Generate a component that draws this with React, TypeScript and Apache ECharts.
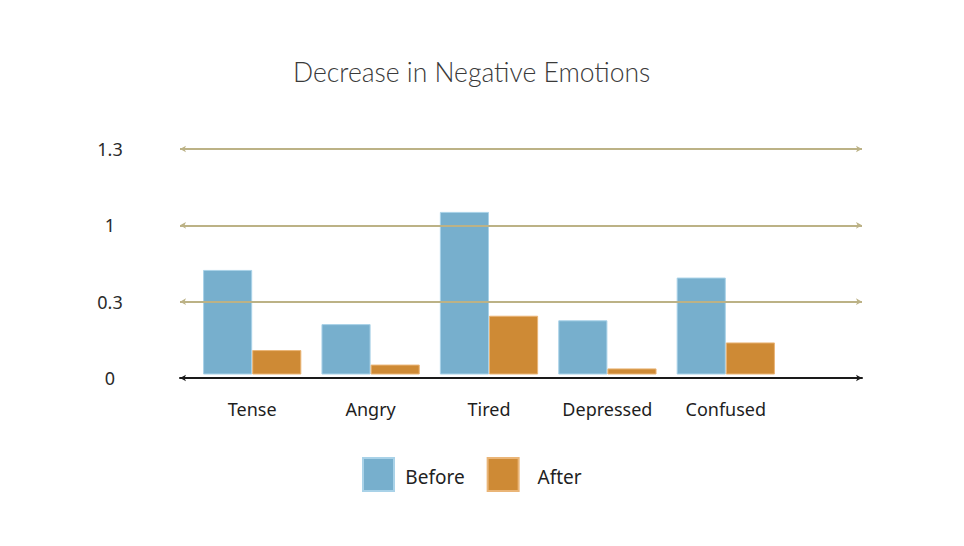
import React, { useEffect, useRef } from "react";
import * as echarts from "echarts";

const categories = ["Tense", "Angry", "Tired", "Depressed", "Confused"];
const beforeValues = [1.37, 0.66, 2.13, 0.71, 1.27];
const afterValues = [0.32, 0.13, 0.77, 0.08, 0.42];
const yTickLabels = ["0", "0.3", "1", "1.3"];
const gridLineValues = [1, 2, 3];
const seriesNames = ["Before", "After"];

export default function App() {
  const ref = useRef<HTMLDivElement>(null);
  useEffect(() => {
    if (!ref.current) return;
    const chart = echarts.init(ref.current, undefined, { renderer: "svg" });
    chart.setOption({
      animation: false,
      backgroundColor: "#ffffff",
      title: {
        text: "Decrease in Negative Emotions",
        left: 288,
        top: 53,
        textStyle: {
          fontFamily: "Lato",
          fontSize: 26.5,
          fontWeight: 300,
          color: "#3a3a3a",
        },
      },
      legend: {
        data: seriesNames,
        left: 362,
        top: 457,
        padding: 0,
        itemWidth: 31,
        itemHeight: 33,
        itemGap: 22,
        icon: "rect",
        formatter: "{a|{name}}",
        textStyle: {
          rich: {
            a: {
              width: 72,
              align: "center",
              fontFamily: "Noto Sans",
              fontSize: 19,
              color: "#222222",
              padding: [4, 0, 0, 0],
            },
          },
        },
      },
      grid: [
        { left: 180, right: 102, top: 149, bottom: 168, containLabel: false },
        { left: 193, right: 179, top: 145.5, bottom: 171.5, containLabel: false },
      ],
      xAxis: [
        {
          type: "value",
          gridIndex: 0,
          min: 0,
          max: 1,
          axisLine: {
            show: true,
            onZero: false,
            symbol: ["arrow", "arrow"],
            symbolSize: [5, 6],
            lineStyle: { color: "#1a1a1a", width: 2 },
          },
          axisTick: { show: false },
          axisLabel: { show: false },
          splitLine: { show: false },
        },
        {
          type: "category",
          gridIndex: 1,
          data: categories,
          axisLine: { show: false },
          axisTick: { show: false },
          axisLabel: {
            interval: 0,
            margin: 25,
            fontFamily: "Noto Sans",
            fontSize: 18,
            color: "#1e1e1e",
          },
        },
      ],
      yAxis: [
        {
          type: "value",
          gridIndex: 0,
          min: 0,
          max: 3,
          interval: 1,
          axisLine: { show: false },
          axisTick: { show: false },
          axisLabel: {
            formatter: (v: number) => yTickLabels[Math.round(v)] ?? "",
            align: "center",
            margin: 70,
            fontFamily: "Noto Sans",
            fontSize: 18,
            color: "#2a2a2a",
          },
          splitLine: { show: false },
        },
        {
          type: "value",
          gridIndex: 1,
          min: 0,
          max: 3,
          interval: 1,
          show: false,
          splitLine: { show: false },
        },
      ],
      series: [
        {
          name: "gridlines",
          type: "line",
          xAxisIndex: 0,
          yAxisIndex: 0,
          data: [],
          silent: true,
          markLine: {
            silent: true,
            symbol: ["arrow", "arrow"],
            symbolSize: [5, 6],
            label: { show: false },
            lineStyle: { color: "#bcb286", width: 2.2, type: "solid" },
            data: gridLineValues.map((v) => ({ yAxis: v })),
          },
        },
        {
          name: "Before",
          type: "bar",
          xAxisIndex: 1,
          yAxisIndex: 1,
          data: beforeValues,
          barGap: "0%",
          barCategoryGap: "17%",
          itemStyle: { color: "#77afcd", borderColor: "#a9d2e8", borderWidth: 1 },
        },
        {
          name: "After",
          type: "bar",
          xAxisIndex: 1,
          yAxisIndex: 1,
          data: afterValues,
          barGap: "0%",
          barCategoryGap: "17%",
          itemStyle: { color: "#ce8a35", borderColor: "#eab577", borderWidth: 1 },
        },
      ],
    });
    return () => chart.dispose();
  }, []);
  return (
    <div
      ref={ref}
      style={{ position: "fixed", left: 0, top: 0, width: 964, height: 546 }}
    />
  );
}
